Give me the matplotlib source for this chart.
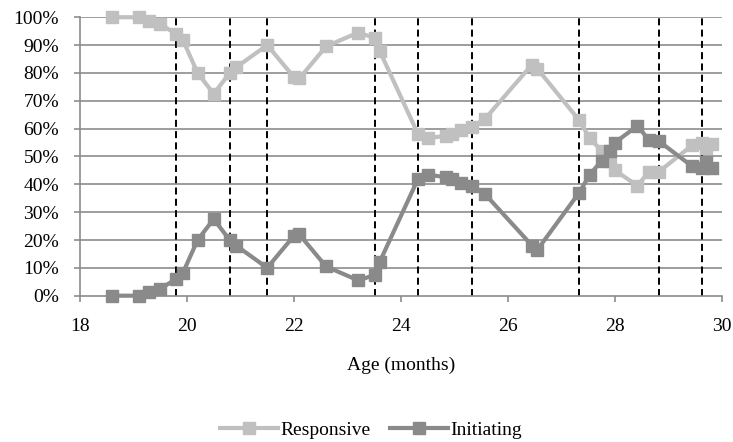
import matplotlib
matplotlib.use("Agg")
import matplotlib.pyplot as plt
from matplotlib.ticker import PercentFormatter

# --- data ---
months = [18.6, 19.1, 19.3, 19.5, 19.8, 19.92, 20.2, 20.5, 20.8, 20.92,
          21.5, 22.0, 22.1, 22.6, 23.2, 23.52, 23.6, 24.32, 24.5, 24.85,
          24.95, 25.13, 25.32, 25.57, 26.45, 26.55, 27.33, 27.53, 27.75, 27.9,
          28.0, 28.42, 28.63, 28.82, 29.44, 29.62, 29.7, 29.81]

responsive = [100, 100, 98.5, 97.5, 94, 92, 80, 72.5, 80, 82,
              90, 78.5, 78, 89.5, 94.5, 92.5, 88, 58, 56.5, 57.5,
              58, 59.5, 60.5, 63.5, 83, 81.5, 63, 56.5, 52, 48.5,
              45, 39.5, 44.5, 44.5, 54, 55, 53, 54.5]

initiating = [0, 0, 1.5, 2.5, 6, 8, 20, 27.5, 20, 18,
              10, 21.5, 22, 10.5, 5.5, 7.5, 12, 42, 43.5, 42.5,
              42, 40.5, 39.5, 36.5, 18, 16.5, 37, 43.5, 48.5, 52,
              55, 61, 56, 55.5, 46.5, 46, 48, 46]

# vertical dashed markers (months)
session_lines = [19.8, 20.8, 21.5, 23.52, 24.32, 25.32, 27.33, 28.82, 29.62]

x_ticks = [18, 20, 22, 24, 26, 28, 30]
y_ticks = [0, 10, 20, 30, 40, 50, 60, 70, 80, 90, 100]

plt.rcParams['font.family'] = ['Liberation Serif', 'DejaVu Serif']

fig = plt.figure(figsize=(7.33, 4.42), dpi=100)
ax = fig.add_axes([0.109, 0.331, 0.876, 0.630])

axis_grey = '#8c8c8c'

for y in y_ticks[1:]:
    ax.axhline(y, color=axis_grey, lw=1.2, zorder=1)

for m in session_lines:
    ax.plot([m, m], [0, 100], color='black', lw=1.4, ls=(0, (3.6, 2.2)),
            zorder=2, clip_on=False)

ax.plot(months, responsive, color='#c0c0c0', lw=3, marker='s', ms=8.5,
        label='Responsive', zorder=3, clip_on=False)
ax.plot(months, initiating, color='#8a8a8a', lw=3, marker='s', ms=8.5,
        label='Initiating', zorder=4, clip_on=False)

ax.set_xlim(18, 30)
ax.set_ylim(0, 100)
ax.set_xticks(x_ticks)
ax.set_yticks(y_ticks)
ax.yaxis.set_major_formatter(PercentFormatter(decimals=0))

for s in ['top', 'right']:
    ax.spines[s].set_visible(False)
for s in ['left', 'bottom']:
    ax.spines[s].set_color(axis_grey)
    ax.spines[s].set_linewidth(1.2)
ax.tick_params(axis='both', direction='out', length=4, width=1.2,
               color=axis_grey, labelsize=14)
ax.tick_params(axis='y', pad=11)
ax.tick_params(axis='x', pad=12)

ax.set_xlabel('Age (months)', fontsize=14, labelpad=16)

fig.legend(loc='center', bbox_to_anchor=(0.506, 0.027), ncol=2,
           frameon=False, fontsize=14, handlelength=3, columnspacing=1.0,
           handletextpad=0.1)

fig.savefig('out.png', dpi=100)
